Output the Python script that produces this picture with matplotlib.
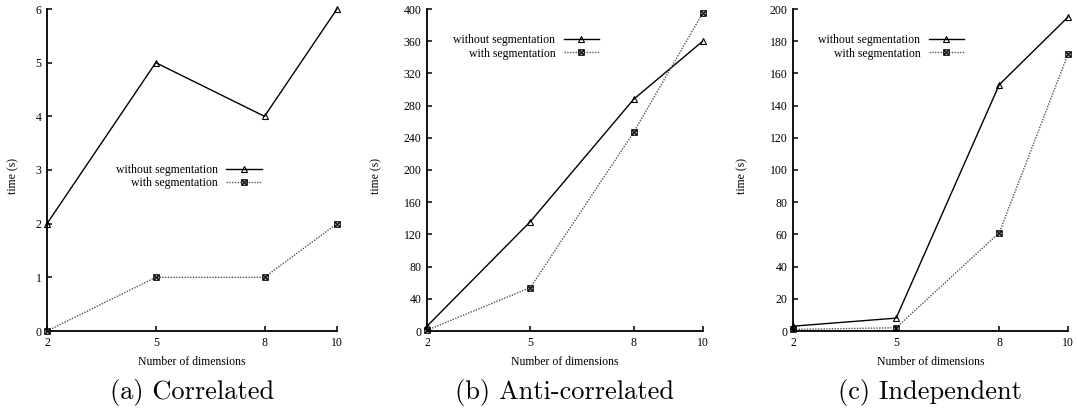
import matplotlib
matplotlib.use("Agg")
import matplotlib.pyplot as plt
from matplotlib.ticker import MultipleLocator

plt.rcParams['font.family'] = ['Liberation Serif', 'DejaVu Serif']

dims = [2, 5, 8, 10]
corr_without = [2, 5, 4, 6]
corr_with = [0, 1, 1, 2]
anti_without = [6, 136, 288, 360]
anti_with = [1, 54, 247, 395]
ind_without = [3, 8, 153, 195]
ind_with = [1, 2, 61, 172]

captions = ["(a) Correlated", "(b) Anti-correlated", "(c) Independent"]
series_labels = ["without segmentation", "with segmentation"]

panels = [
    dict(rect=[47/1078, 81/412, 290/1078, 322/412], without=corr_without, with_=corr_with,
         ymax=6, ystep=1, leg=(0.741, 0.48), ylab_x=-0.097),
    dict(rect=[427/1078, 81/412, 275.7/1078, 322/412], without=anti_without, with_=anti_with,
         ymax=400, ystep=40, leg=(0.624, 0.882), ylab_x=-0.163),
    dict(rect=[793/1078, 81/412, 275/1078, 322/412], without=ind_without, with_=ind_with,
         ymax=200, ystep=20, leg=(0.622, 0.882), ylab_x=-0.164),
]

fig = plt.figure(figsize=(10.78, 4.12), dpi=100)
fs = 8.5

for p, cap in zip(panels, captions):
    ax = fig.add_axes(p['rect'])
    ax.plot(dims, p['without'], color='black', lw=1.0, marker='^', ms=5,
            mfc='none', mec='black', mew=0.8, clip_on=False, zorder=3,
            label=series_labels[0])
    ax.plot(dims, p['with_'], color='#555555', lw=1.0, linestyle=(0, (1, 1)),
            marker=r'$\boxtimes$', ms=4.5, mec='black', mfc='black', mew=0.3,
            clip_on=False, zorder=3, label=series_labels[1])
    ax.set_xlim(2, 10)
    ax.set_ylim(0, p['ymax'])
    ax.set_xticks(dims)
    ax.yaxis.set_major_locator(MultipleLocator(p['ystep']))
    for s in ['top', 'right']:
        ax.spines[s].set_visible(False)
    for s in ['left', 'bottom']:
        ax.spines[s].set_linewidth(1.3)
    ax.tick_params(direction='in', length=3.5, width=1.1, labelsize=fs, pad=4)
    ax.set_xlabel("Number of dimensions", fontsize=fs)
    ax.set_ylabel("time (s)", fontsize=fs)
    ax.xaxis.set_label_coords(0.5, -0.078)
    ax.yaxis.set_label_coords(p['ylab_x'], 0.48)
    leg = ax.legend(loc='center right', bbox_to_anchor=p['leg'], frameon=False,
                    markerfirst=False, fontsize=fs, handlelength=3.0,
                    handletextpad=0.7, labelspacing=0.1, borderpad=0,
                    borderaxespad=0)
    pos = p['rect']
    fig.text(pos[0] + pos[2] / 2, 20/412, cap, family='cmr10', fontsize=19,
             ha='center', va='center')

fig.savefig("out.png", dpi=100)
